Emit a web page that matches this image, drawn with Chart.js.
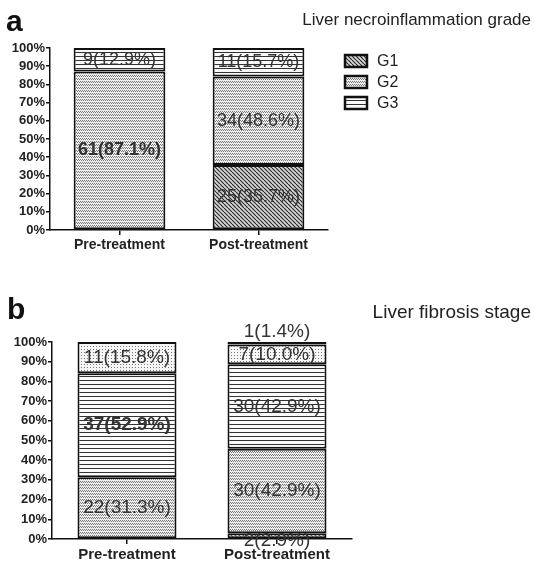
<!DOCTYPE html>
<html>
<head>
<meta charset="utf-8">
<script src="https://cdn.jsdelivr.net/npm/chart.js@4.4.1/dist/chart.umd.min.js"></script>
<style>
  body { margin: 0; background: #fff; }
  #wrap { position: relative; width: 534px; height: 572px; font-family: Arial, "Liberation Sans", sans-serif; color: #111; }
  canvas { position: absolute; left: 0; }
  .letter { position: absolute; font-weight: bold; font-size: 30px; line-height: 30px; }
  .title { position: absolute; right: 3px; line-height: 20px; color: #222; }
</style>
</head>
<body>
<div id="wrap">
  <canvas id="chartA" width="534" height="262" style="top:0;width:534px;height:262px"></canvas>
  <canvas id="chartB" width="534" height="292" style="top:280px;width:534px;height:292px"></canvas>
  <div class="letter" style="left:6px;top:6px">a</div>
  <div class="title" style="top:10px;font-size:17px">Liver necroinflammation grade</div>
  <div class="letter" style="left:7px;top:294px">b</div>
  <div class="title" style="top:302px;font-size:19px">Liver fibrosis stage</div>
</div>
<script>
const categories = ['Pre-treatment', 'Post-treatment'];

// panel a: necroinflammation grade (patients, percent)
const gradeNames = ['G1', 'G2', 'G3'];
const g1Counts = [0, 25];
const g1Pct = [0, 35.7];
const g2Counts = [61, 34];
const g2Pct = [87.1, 48.6];
const g3Counts = [9, 11];
const g3Pct = [12.9, 15.7];

// panel b: fibrosis stage
const stageNames = ['F0', 'F1', 'F2', 'F3', 'F4'];
const f0Counts = [0, 2];
const f0Pct = [0, 2.9];
const f1Counts = [22, 30];
const f1Pct = [31.3, 42.9];
const f2Counts = [37, 30];
const f2Pct = [52.9, 42.9];
const f3Counts = [11, 7];
const f3Pct = [15.8, 10.0];
const f4Counts = [0, 1];
const f4Pct = [0, 1.4];

// fill patterns like the printed figure
function hatch(kind) {
  const c = document.createElement('canvas');
  const g = c.getContext('2d');
  if (kind === 'diag') {
    c.width = 4; c.height = 4;
    g.fillStyle = '#d6d6d6'; g.fillRect(0, 0, 4, 4);
    g.strokeStyle = '#2a2a2a'; g.lineWidth = 1.2;
    g.beginPath();
    for (let o = -4; o <= 4; o += 4) { g.moveTo(o, 0); g.lineTo(o + 4, 4); }
    g.stroke();
  } else if (kind === 'wavy') {
    c.width = 4; c.height = 3;
    g.fillStyle = '#eeeeee'; g.fillRect(0, 0, 4, 3);
    g.fillStyle = '#7a7a7a';
    g.fillRect(0, 0, 1, 1); g.fillRect(1, 1, 1, 1); g.fillRect(2, 0, 1, 1); g.fillRect(3, 1, 1, 1);
  } else if (kind === 'hlines') {
    c.width = 4; c.height = 4;
    g.fillStyle = '#fafafa'; g.fillRect(0, 0, 4, 4);
    g.fillStyle = '#333'; g.fillRect(0, 0, 4, 1);
  } else if (kind === 'dots') {
    c.width = 3; c.height = 3;
    g.fillStyle = '#f7f7f7'; g.fillRect(0, 0, 3, 3);
    g.fillStyle = '#777'; g.fillRect(0, 0, 1, 1);
  } else {
    c.width = 3; c.height = 1;
    g.fillStyle = '#fff'; g.fillRect(0, 0, 3, 1);
    g.fillStyle = '#222'; g.fillRect(0, 0, 1, 1);
  }
  return g.createPattern(c, 'repeat');
}

function ds(label, pct, counts, kind) {
  return {
    label: label,
    data: pct,
    counts: counts,
    backgroundColor: hatch(kind),
    borderColor: '#111',
    borderWidth: 2,
    borderSkipped: false,
    barPercentage: 0.66,
    categoryPercentage: 1.0
  };
}

// count(percent) labels inside segments
const segLabels = {
  id: 'segLabels',
  afterDatasetsDraw(chart, args, opts) {
    const ctx = chart.ctx;
    ctx.save();
    ctx.textAlign = 'center';
    ctx.textBaseline = 'middle';
    ctx.fillStyle = '#333';
    // biggest pre-treatment segment is bold
    let boldDs = 0;
    chart.data.datasets.forEach((d, i) => { if (d.data[0] > chart.data.datasets[boldDs].data[0]) boldDs = i; });
    chart.data.datasets.forEach((d, i) => {
      const meta = chart.getDatasetMeta(i);
      meta.data.forEach((bar, j) => {
        const v = d.data[j];
        if (!v) return;
        let y = (bar.y + bar.base) / 2;
        if (v < 2) y = bar.y - 10;
        else if (v < 4) y = bar.base + 3;
        ctx.font = (i === boldDs && j === 0 ? 'bold ' : '') + opts.size + 'px Arial';
        ctx.fillText(d.counts[j] + '(' + v.toFixed(1) + '%)', bar.x, y);
      });
    });
    ctx.restore();
  }
};

const boxLegend = {
  id: 'boxLegend',
  afterDraw(chart, args, opts) {
    const ctx = chart.ctx;
    ctx.save();
    ctx.textBaseline = 'middle';
    ctx.font = opts.size + 'px Arial';
    chart.data.datasets.forEach((d, i) => {
      const y = opts.y + i * opts.step;
      ctx.fillStyle = d.backgroundColor;
      ctx.fillRect(opts.x, y - opts.h / 2, opts.w, opts.h);
      ctx.strokeStyle = '#111';
      ctx.lineWidth = 2.5;
      ctx.strokeRect(opts.x, y - opts.h / 2, opts.w, opts.h);
      ctx.fillStyle = '#222';
      ctx.fillText(d.label, opts.x + opts.w + 10, y + 1);
    });
    ctx.restore();
  }
};

function makeChart(id, datasets, cfg) {
  return new Chart(document.getElementById(id), {
    type: 'bar',
    data: { labels: categories, datasets: datasets },
    plugins: [segLabels, boxLegend],
    options: {
      responsive: false,
      animation: false,
      layout: { padding: { top: cfg.top, right: cfg.right, left: 0, bottom: 0 } },
      plugins: {
        legend: { display: false },
        tooltip: { enabled: false },
        segLabels: { size: cfg.labelSize },
        boxLegend: cfg.legend
      },
      scales: {
        x: {
          stacked: true,
          afterFit: s => { s.height = cfg.xHeight; },
          grid: { display: true, drawOnChartArea: false, offset: false, tickLength: 5, color: '#111', lineWidth: 1.5 },
          border: { color: '#111', width: 1.5 },
          ticks: { color: '#222', padding: 2, font: { family: 'Arial', weight: 'bold', size: cfg.xSize } }
        },
        y: {
          stacked: true,
          min: 0,
          max: 100,
          afterFit: s => { s.width = cfg.yWidth; },
          grid: { display: true, drawOnChartArea: false, tickLength: 4, color: '#111', lineWidth: 1.5 },
          border: { color: '#111', width: 1.5 },
          ticks: {
            stepSize: 10,
            autoSkip: false,
            padding: 1,
            color: '#222',
            font: { family: 'Arial', weight: 'bold', size: 13 },
            callback: v => v + '%'
          }
        }
      }
    }
  });
}

makeChart('chartA', [
  ds(gradeNames[0], g1Pct, g1Counts, 'diag'),
  ds(gradeNames[1], g2Pct, g2Counts, 'wavy'),
  ds(gradeNames[2], g3Pct, g3Counts, 'hlines')
], {
  top: 48, right: 206, xHeight: 32, yWidth: 50, xSize: 14, labelSize: 18,
  legend: { x: 345, y: 61, step: 21, w: 22, h: 12, size: 16 }
});

makeChart('chartB', [
  ds(stageNames[0], f0Pct, f0Counts, 'diag'),
  ds(stageNames[1], f1Pct, f1Counts, 'wavy'),
  ds(stageNames[2], f2Pct, f2Counts, 'hlines'),
  ds(stageNames[3], f3Pct, f3Counts, 'dots'),
  ds(stageNames[4], f4Pct, f4Counts, 'vlines')
], {
  top: 62, right: 182, xHeight: 33, yWidth: 52, xSize: 15, labelSize: 19,
  legend: { x: 370, y: 354, step: 22.8, w: 24, h: 13, size: 17 }
});
</script>
</body>
</html>
